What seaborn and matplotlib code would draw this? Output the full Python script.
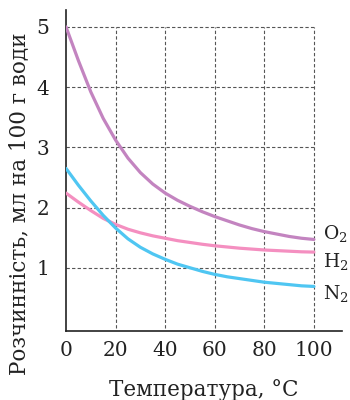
import numpy as np
import pandas as pd
import matplotlib
matplotlib.use('Agg')
import matplotlib.pyplot as plt
import seaborn as sns

# Data
temperature = [0, 5, 10, 15, 20, 25, 30, 35, 40, 45, 50,
               55, 60, 65, 70, 75, 80, 85, 90, 95, 100]
oxygen = [5.0, 4.44, 3.92, 3.48, 3.12, 2.82, 2.58, 2.39, 2.24, 2.12, 2.02,
          1.93, 1.85, 1.78, 1.71, 1.65, 1.60, 1.56, 1.52, 1.49, 1.47]
hydrogen = [2.24, 2.09, 1.95, 1.82, 1.72, 1.64, 1.58, 1.53, 1.49, 1.45, 1.42,
            1.39, 1.365, 1.345, 1.325, 1.31, 1.295, 1.285, 1.275, 1.265, 1.26]
nitrogen = [2.65, 2.37, 2.11, 1.87, 1.66, 1.48, 1.34, 1.23, 1.14, 1.06, 1.00,
            0.94, 0.89, 0.85, 0.82, 0.79, 0.76, 0.74, 0.72, 0.70, 0.69]
gases = ['O2', 'H2', 'N2']
gas_labels = ['O$_2$', 'H$_2$', 'N$_2$']
label_y = [1.47, 1.01, 0.48]
colors = {'O2': '#c384c0', 'H2': '#f48fc0', 'N2': '#4fc6f2'}
x_ticks = [0, 20, 40, 60, 80, 100]
y_ticks = [1, 2, 3, 4, 5]

df = pd.DataFrame({
    'T': temperature * 3,
    'S': oxygen + hydrogen + nitrogen,
    'gas': ['O2'] * len(temperature) + ['H2'] * len(temperature) + ['N2'] * len(temperature),
})

sns.set_style('white')
plt.rcParams['font.family'] = ['DejaVu Serif']
plt.rcParams['mathtext.fontset'] = 'dejavuserif'

fig = plt.figure(figsize=(3.5, 4), dpi=100)
ax = fig.add_axes([0.1886, 0.1725, 0.977 - 0.1886, 0.975 - 0.1725])

xmin, xmax = 0, 111.3
ymin, ymax = -0.05, 5.28

# dashed grid only inside the 0..100 x 0..5 box
grid_kw = dict(colors='#555555', linestyles=(0, (3, 2)), linewidth=0.8, zorder=1)
ax.vlines(x_ticks[1:], 0, 5, **grid_kw)
ax.hlines(y_ticks, 0, 100, **grid_kw)

sns.lineplot(data=df, x='T', y='S', hue='gas', palette=colors, linewidth=2.3,
             legend=False, ax=ax, zorder=3)
for line in ax.get_lines():
    line.set_solid_joinstyle('round')

for g, lab, ly in zip(gases, gas_labels, label_y):
    ax.text(103.5, ly, lab, fontsize=13.5, ha='left', va='baseline', color='#222222')

ax.set_xlim(xmin, xmax)
ax.set_ylim(ymin, ymax)
ax.set_xticks(x_ticks)
ax.set_yticks(y_ticks)
ax.tick_params(axis='x', direction='inout', length=7, width=1, labelsize=14.5, pad=4, colors='#222222')
ax.tick_params(axis='y', length=0, labelsize=14.5, pad=12, colors='#222222')
ax.xaxis.get_major_ticks()[0].tick1line.set_visible(False)

for side in ['top', 'right']:
    ax.spines[side].set_visible(False)
for side in ['left', 'bottom']:
    ax.spines[side].set_color('#222222')
    ax.spines[side].set_linewidth(1.2)

ax.set_xlabel('Температура, °C', fontsize=15.5, color='#222222')
ax.set_ylabel('Розчинність, мл на 100 г води', fontsize=15.5, color='#222222')
ax.xaxis.set_label_coords(0.5, -0.15)
ax.yaxis.set_label_coords(-0.13, 0.397)

plt.savefig('out.png', dpi=100)
